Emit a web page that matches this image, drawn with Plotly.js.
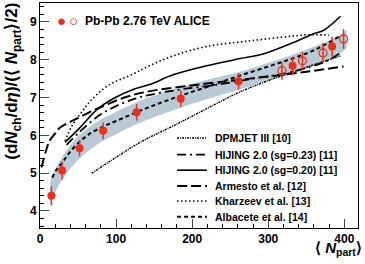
<!DOCTYPE html>
<html><head><meta charset="utf-8">
<script src="https://cdn.plot.ly/plotly-3.0.1.min.js"></script>
<style>html,body{margin:0;padding:0;background:#fff;}#chart{width:365px;height:264px;}</style>
</head><body><div id="chart"></div>
<script>
// ALICE data (filled and open points)
const filledX = [15, 29, 52, 83, 127, 185, 261, 332, 384];
const filledY = [4.40, 5.07, 5.66, 6.12, 6.61, 6.97, 7.43, 7.84, 8.35];
const filledErr = [0.25, 0.24, 0.22, 0.22, 0.22, 0.22, 0.22, 0.24, 0.26];
const openX = [318, 345, 372, 399];
const openY = [7.71, 7.97, 8.18, 8.55];
const openErr = [0.24, 0.24, 0.26, 0.26];

// grey uncertainty band
const bandX    = [13, 20, 30, 50, 80, 100, 130, 180, 230, 263, 300, 330, 360, 385, 403];
const bandLow  = [4.20, 4.50, 4.85, 5.35, 5.82, 6.03, 6.32, 6.70, 7.02, 7.22, 7.45, 7.62, 7.85, 8.05, 8.30];
const bandHigh = [4.75, 5.10, 5.45, 5.98, 6.42, 6.62, 6.90, 7.25, 7.52, 7.68, 7.92, 8.12, 8.35, 8.55, 8.78];

// model curves
const dpmX = [68, 100, 132, 180, 230, 263, 307, 350, 395];
const dpmY = [5.00, 5.42, 5.82, 6.30, 6.82, 7.15, 7.50, 7.80, 8.10];
const hij23X = [35, 50, 81, 125, 180, 230, 280, 320, 350, 375, 395];
const hij23Y = [5.75, 6.05, 6.57, 6.97, 7.20, 7.33, 7.50, 7.63, 7.78, 7.95, 8.18];
const hij20X = [33, 50, 76, 99, 125, 145, 175, 219, 263, 293, 329, 359, 373, 395];
const hij20Y = [5.82, 6.15, 6.70, 7.00, 7.23, 7.35, 7.60, 7.84, 8.03, 8.15, 8.42, 8.68, 8.78, 9.15];
const armX = [2, 8, 13, 20, 26, 46, 66, 86, 114, 145, 219, 276, 342, 399];
const armY = [5.15, 5.60, 5.87, 6.05, 6.20, 6.42, 6.62, 6.80, 7.02, 7.17, 7.37, 7.50, 7.66, 7.82];
const khaX = [33, 42, 55, 66, 88, 123, 145, 175, 219, 276, 330, 351, 380];
const khaY = [5.85, 6.25, 6.62, 6.90, 7.30, 7.63, 7.85, 8.10, 8.35, 8.50, 8.62, 8.66, 8.65];
const albX = [16, 22, 30, 39, 52, 66, 83, 100, 140, 185, 230, 263, 300, 330, 360, 395];
const albY = [4.88, 5.10, 5.30, 5.55, 5.83, 6.05, 6.23, 6.38, 6.72, 7.05, 7.35, 7.58, 7.82, 8.02, 8.25, 8.63];

const modelNames = ['DPMJET III [10]', 'HIJING 2.0 (sg=0.23) [11]', 'HIJING 2.0 (sg=0.20) [11]',
                    'Armesto et al. [12]', 'Kharzeev et al. [13]', 'Albacete et al. [14]'];
const dataLabel = 'Pb-Pb 2.76 TeV ALICE';
const xTicks = [0, 100, 200, 300, 400];
const yTicks = [4, 5, 6, 7, 8, 9];

const RED = '#e8301c';
const FONT = 'Liberation Sans, Arial, Helvetica, sans-serif';

const modelX = [dpmX, hij23X, hij20X, armX, khaX, albX];
const modelY = [dpmY, hij23Y, hij20Y, armY, khaY, albY];
const modelLine = [
  {color: '#000', width: 1.5, dash: '2px,1px,1px,1px'},
  {color: '#000', width: 1.8, dash: '9px,4px,2px,4px'},
  {color: '#000', width: 1.6, dash: 'solid'},
  {color: '#000', width: 2, dash: '10px,4px'},
  {color: '#000', width: 1.6, dash: '1.5px,2.5px'},
  {color: '#000', width: 2, dash: '4px,3px'}
];

const traces = [
  {x: bandX, y: bandLow, mode: 'lines', line: {width: 0, shape: 'spline'}, showlegend: false, hoverinfo: 'skip'},
  {x: bandX, y: bandHigh, mode: 'lines', line: {width: 0, shape: 'spline'}, fill: 'tonexty',
   fillcolor: '#b9cad7', showlegend: false, hoverinfo: 'skip'}
];
modelNames.forEach((nm, i) => {
  traces.push({x: modelX[i], y: modelY[i], name: nm, mode: 'lines', showlegend: false,
               line: Object.assign({shape: 'spline'}, modelLine[i])});
});
traces.push(
  {x: filledX, y: filledY, mode: 'markers', showlegend: false,
   marker: {color: RED, size: 8, symbol: 'circle'},
   error_y: {type: 'data', array: filledErr, color: RED, thickness: 1.5, width: 0}},
  {x: openX, y: openY, mode: 'markers', showlegend: false,
   marker: {color: RED, size: 8, symbol: 'circle-open', line: {width: 1.2, color: RED}},
   error_y: {type: 'data', array: openErr, color: RED, thickness: 1.5, width: 0}}
);

// legend built in paper coordinates (ROOT style TLegend)
const legRowsY = [0.400, 0.326, 0.257, 0.187, 0.120, 0.050];
const shapes = [];
const annotations = [
  {xref: 'paper', yref: 'paper', x: -0.085, y: 1.012, xanchor: 'center', yanchor: 'top', textangle: -90,
   showarrow: false, font: {family: FONT, size: 17, weight: 'bold'},
   text: '(d<i>N</i><sub>ch</sub>/d<i>η</i>)/(⟨ <i>N</i><sub>part</sub>⟩/2)'},
  {xref: 'paper', yref: 'paper', x: 1.02, y: -0.04, xanchor: 'right', yanchor: 'top',
   showarrow: false, font: {family: FONT, size: 15, weight: 'bold'},
   text: '⟨ <i>N</i><sub>part</sub>⟩'},
  {xref: 'paper', yref: 'paper', x: 0.069, y: 0.92, xanchor: 'center', yanchor: 'middle',
   showarrow: false, font: {family: FONT, size: 15, color: RED}, text: '●'},
  {xref: 'paper', yref: 'paper', x: 0.104, y: 0.92, xanchor: 'center', yanchor: 'middle',
   showarrow: false, font: {family: FONT, size: 15, color: RED}, text: '○'},
  {xref: 'paper', yref: 'paper', x: 0.135, y: 0.92, xanchor: 'left', yanchor: 'middle',
   showarrow: false, font: {family: FONT, size: 12, weight: 'bold'}, text: dataLabel}
];
modelNames.forEach((nm, i) => {
  shapes.push({type: 'line', xref: 'paper', yref: 'paper', x0: 0.431, x1: 0.525,
               y0: legRowsY[i], y1: legRowsY[i], line: modelLine[i]});
  annotations.push({xref: 'paper', yref: 'paper', x: 0.543, y: legRowsY[i], xanchor: 'left', yanchor: 'middle',
                    showarrow: false, font: {family: FONT, size: 10.5, weight: 'bold'}, text: nm});
});

const layout = {
  width: 365, height: 264,
  margin: {l: 40, r: 7, t: 3, b: 36},
  paper_bgcolor: '#fff', plot_bgcolor: '#fff',
  font: {family: FONT, color: '#000'},
  showlegend: false,
  xaxis: {range: [0, 418], tickvals: xTicks, ticktext: xTicks.map(String), ticks: 'inside', ticklen: 9,
          tickfont: {family: FONT, size: 12, weight: 'bold'}, showline: true, linecolor: '#000', linewidth: 1,
          mirror: true, showgrid: false, zeroline: false,
          minor: {dtick: 20, ticks: 'inside', ticklen: 4, tickcolor: '#000', showgrid: false}},
  yaxis: {range: [3.55, 9.5], tickvals: yTicks, ticktext: yTicks.map(String), ticks: 'inside', ticklen: 9,
          tickfont: {family: FONT, size: 12, weight: 'bold'}, showline: true, linecolor: '#000', linewidth: 1,
          mirror: true, showgrid: false, zeroline: false,
          minor: {dtick: 0.2, ticks: 'inside', ticklen: 4, tickcolor: '#000', showgrid: false}},
  shapes: shapes,
  annotations: annotations
};

Plotly.newPlot('chart', traces, layout, {displayModeBar: false, staticPlot: true});
</script>
</body></html>
